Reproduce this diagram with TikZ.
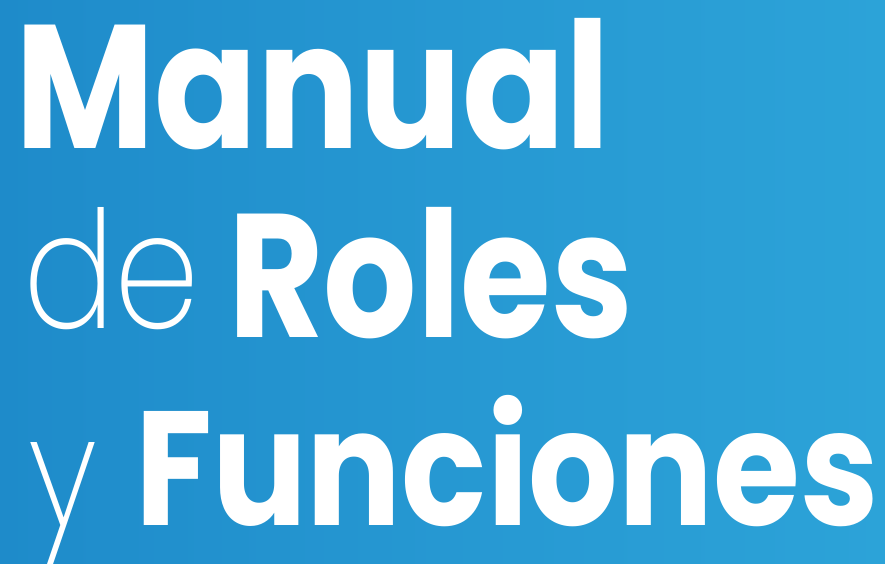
\documentclass[tikz,border=0pt]{standalone}
\usepackage{fontspec}
\setmainfont{Poppins}
\newfontfamily\heavy{Poppins Bold}
\newfontfamily\thin{Poppins ExtraLight}
\definecolor{bgleft}{RGB}{30,139,202}
\definecolor{bgright}{RGB}{44,163,216}
\definecolor{bgmid}{RGB}{38,152,210}
\tikzset{
  word/.style={anchor=base west, inner sep=0pt, outer sep=0pt, text=white},
}
\begin{document}
\begin{tikzpicture}[x=1pt,y=-1pt]
  \useasboundingbox (0,0) rectangle (885,564);
  \shade[left color=bgleft, right color=bgright, middle color=bgmid] (0,0) rectangle (885,564);
  \node[word] (manual) at (15,148) {\resizebox{595pt}{130pt}{\heavy Manual}};
  \node[word] (de) at (23,328) {\resizebox{177pt}{121pt}{\thin de}};
  \node[word] (roles) at (228,337) {\resizebox{405pt}{130pt}{\heavy Roles}};
  \node[word] (y) at (28,525) {\resizebox{69pt}{83pt}{\thin y}};
  \node[word] (funciones) at (135,525) {\resizebox{743pt}{130pt}{\heavy Funciones}};
\end{tikzpicture}
\end{document}
